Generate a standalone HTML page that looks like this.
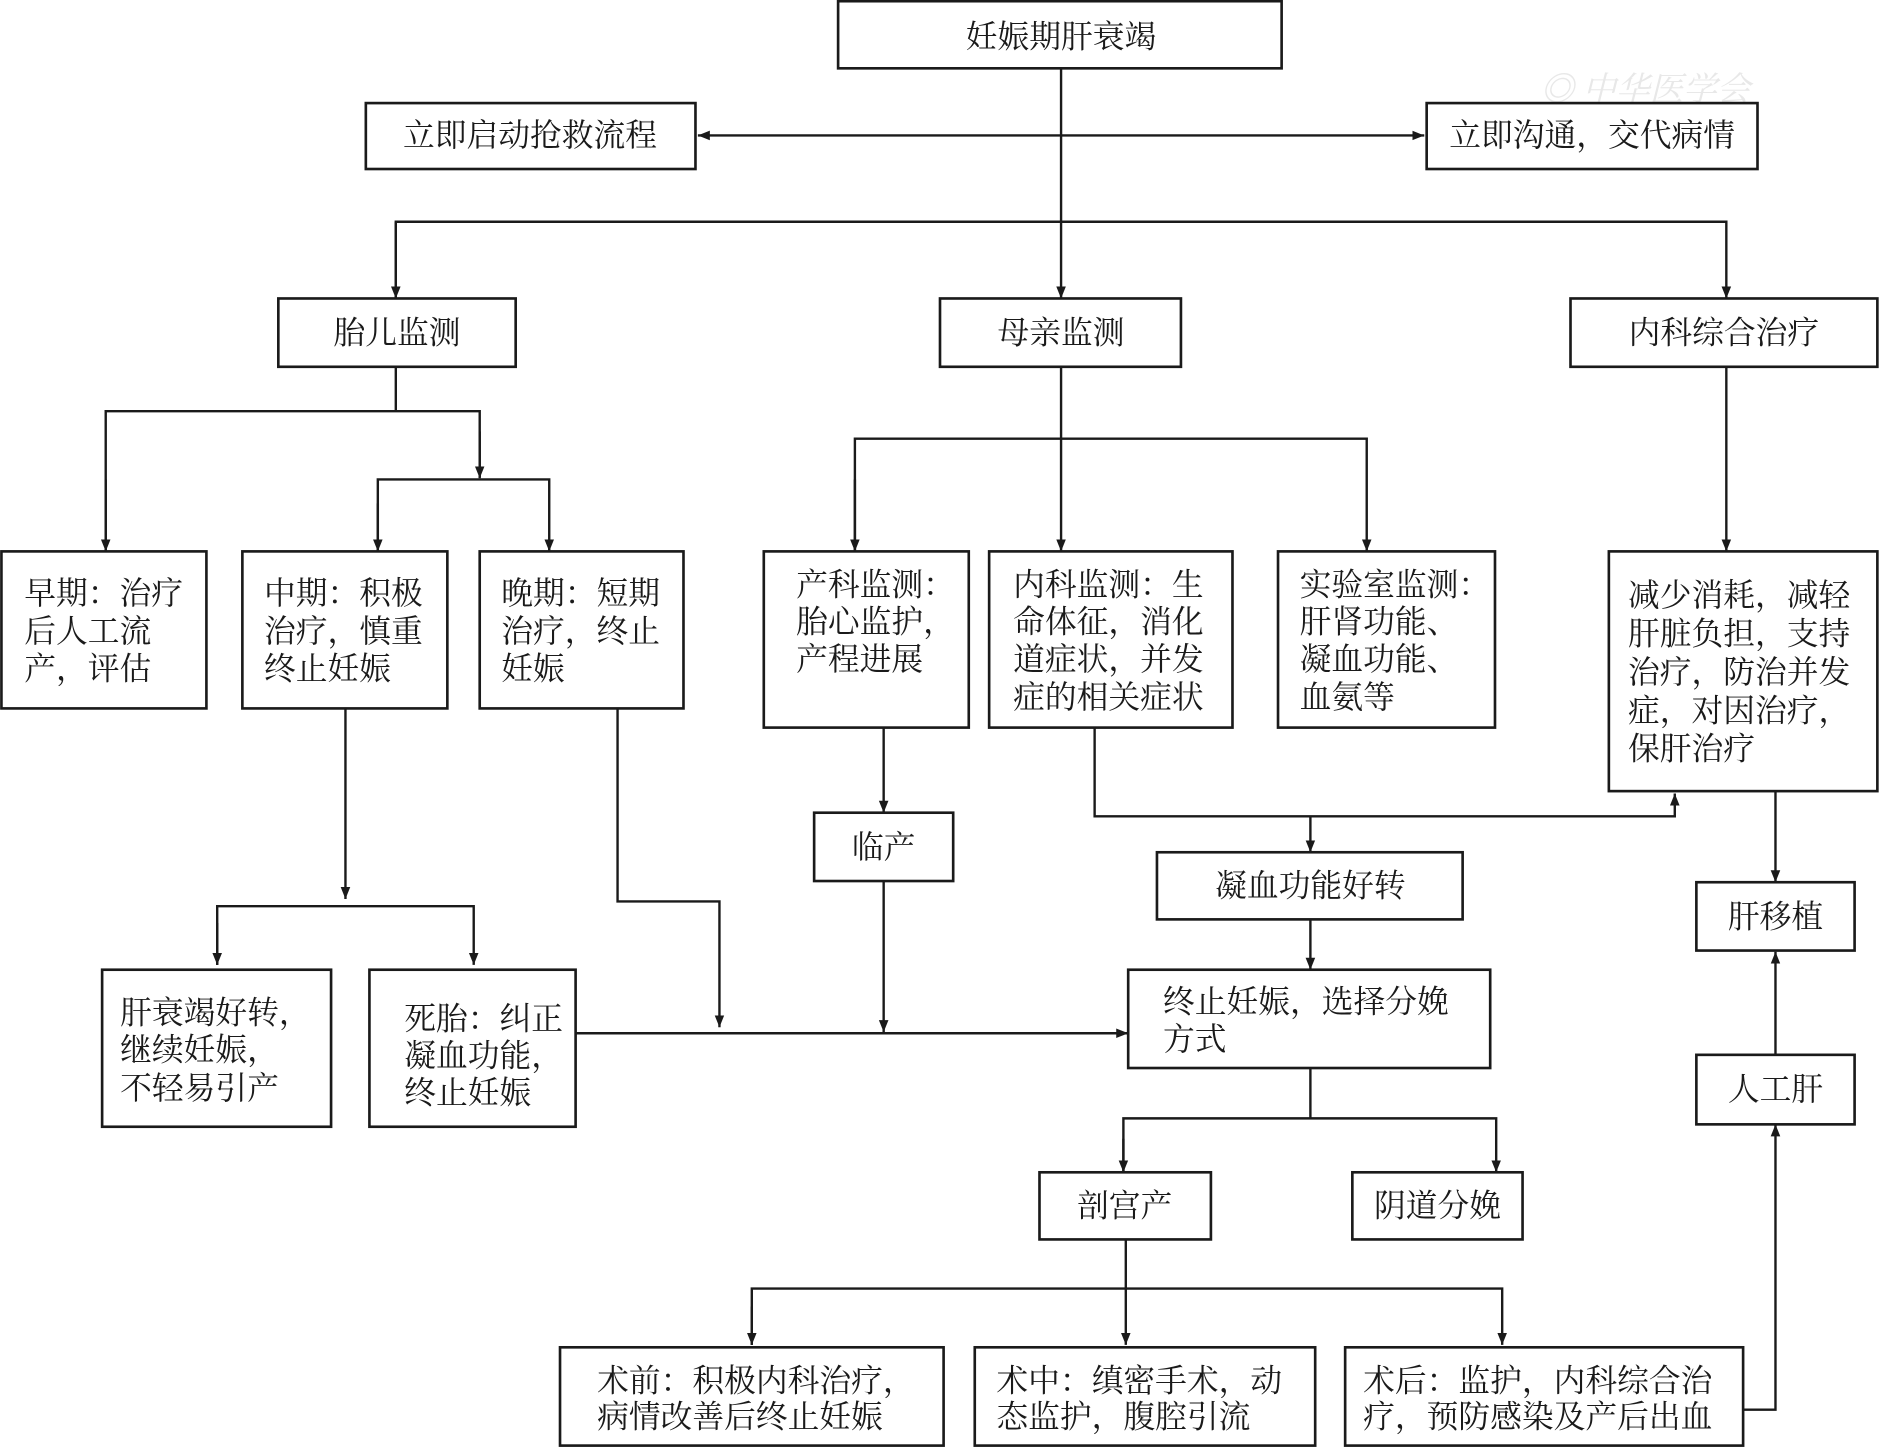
<!DOCTYPE html>
<html><head><meta charset="utf-8"><style>
html,body{margin:0;padding:0;background:#fff;}
svg{display:block;}
text{font-family:"Liberation Serif","Noto Serif CJK SC",serif;font-size:26.5px;fill:#1a1a1a;dominant-baseline:central;}
rect{fill:#fff;stroke:#1a1a1a;stroke-width:2.2;}
.l{fill:none;stroke:#1a1a1a;stroke-width:2;}
</style></head><body>
<svg width="1880" height="1448" viewBox="0 0 1568 1208" xmlns="http://www.w3.org/2000/svg">
<defs><marker id="a" viewBox="0 0 10 10" refX="10" refY="5" markerWidth="10" markerHeight="10" markerUnits="userSpaceOnUse" orient="auto-start-reverse"><path d="M0,1 L10,5 L0,9 z" fill="#1a1a1a"/></marker></defs>
<text x="1285" y="75" style="font-size:28px;fill:#e8e8e8;font-style:italic">◎ 中华医学会</text>
<!-- connectors -->
<line class="l" x1="582" y1="113" x2="1188" y2="113" marker-start="url(#a)" marker-end="url(#a)"/>
<line class="l" x1="885" y1="57" x2="885" y2="249" marker-end="url(#a)"/>
<polyline class="l" points="330,249 330,185 1440,185 1440,249" marker-end="url(#a)"/>
<line class="l" x1="330" y1="185" x2="330" y2="249" marker-end="url(#a)"/>
<polyline class="l" points="330,306 330,343"/>
<polyline class="l" points="88,460 88,343 400,343 400,398"/>
<line class="l" x1="88" y1="400" x2="88" y2="460" marker-end="url(#a)"/>
<line class="l" x1="400" y1="360" x2="400" y2="399" marker-end="url(#a)"/>
<polyline class="l" points="315,460 315,400 458,400 458,460" marker-end="url(#a)"/>
<line class="l" x1="315" y1="420" x2="315" y2="460" marker-end="url(#a)"/>
<line class="l" x1="885" y1="306" x2="885" y2="460" marker-end="url(#a)"/>
<polyline class="l" points="713,460 713,366 1140,366 1140,460" marker-end="url(#a)"/>
<line class="l" x1="713" y1="400" x2="713" y2="460" marker-end="url(#a)"/>
<line class="l" x1="1440" y1="306" x2="1440" y2="460" marker-end="url(#a)"/>
<polyline class="l" points="913,607 913,681 1397,681 1397,662" marker-end="url(#a)"/>
<line class="l" x1="1093" y1="681" x2="1093" y2="711" marker-end="url(#a)"/>
<line class="l" x1="1093" y1="767" x2="1093" y2="809" marker-end="url(#a)"/>
<line class="l" x1="737" y1="607" x2="737" y2="678" marker-end="url(#a)"/>
<line class="l" x1="737" y1="735" x2="737" y2="861" marker-end="url(#a)"/>
<polyline class="l" points="515,591 515,752 600,752 600,857" marker-end="url(#a)"/>
<line class="l" x1="288" y1="591" x2="288" y2="750" marker-end="url(#a)"/>
<polyline class="l" points="181,805 181,756 395,756 395,805" marker-end="url(#a)"/>
<line class="l" x1="181" y1="770" x2="181" y2="805" marker-end="url(#a)"/>
<line class="l" x1="480" y1="862" x2="941" y2="862" marker-end="url(#a)"/>
<line class="l" x1="1093" y1="891" x2="1093" y2="933"/>
<polyline class="l" points="937,978 937,933 1248,933 1248,978" marker-end="url(#a)"/>
<line class="l" x1="937" y1="950" x2="937" y2="978" marker-end="url(#a)"/>
<line class="l" x1="939" y1="1034" x2="939" y2="1122" marker-end="url(#a)"/>
<polyline class="l" points="627,1122 627,1075 1253,1075 1253,1122" marker-end="url(#a)"/>
<line class="l" x1="627" y1="1090" x2="627" y2="1122" marker-end="url(#a)"/>
<polyline class="l" points="1454,1176 1481,1176 1481,938" marker-end="url(#a)"/>
<line class="l" x1="1481" y1="880" x2="1481" y2="794" marker-end="url(#a)"/>
<line class="l" x1="1481" y1="660" x2="1481" y2="736" marker-end="url(#a)"/>
<!-- boxes -->
<rect x="699" y="1" width="370" height="56"/><text x="885" y="31" text-anchor="middle">妊娠期肝衰竭</text>
<rect x="305" y="86" width="275" height="55"/><text x="442" y="113" text-anchor="middle">立即启动抢救流程</text>
<rect x="1190" y="86" width="276" height="55"/><text x="1328" y="113" text-anchor="middle">立即沟通，交代病情</text>
<rect x="232" y="249" width="198" height="57"/><text x="331" y="278" text-anchor="middle">胎儿监测</text>
<rect x="784" y="249" width="201" height="57"/><text x="885" y="278" text-anchor="middle">母亲监测</text>
<rect x="1310" y="249" width="256" height="57"/><text x="1438" y="278" text-anchor="middle">内科综合治疗</text>
<rect x="1" y="460" width="171" height="131"/>
<text x="20" y="495">早期：治疗</text><text x="20" y="527">后人工流</text><text x="20" y="558">产，评估</text>
<rect x="202" y="460" width="171" height="131"/>
<text x="220" y="495">中期：积极</text><text x="220" y="527">治疗，慎重</text><text x="220" y="558">终止妊娠</text>
<rect x="400" y="460" width="170" height="131"/>
<text x="418" y="495">晚期：短期</text><text x="418" y="527">治疗，终止</text><text x="418" y="558">妊娠</text>
<rect x="637" y="460" width="171" height="147"/>
<text x="664" y="488">产科监测：</text><text x="664" y="519">胎心监护，</text><text x="664" y="550">产程进展</text>
<rect x="825" y="460" width="203" height="147"/>
<text x="845" y="488">内科监测：生</text><text x="845" y="519">命体征，消化</text><text x="845" y="550">道症状，并发</text><text x="845" y="582">症的相关症状</text>
<rect x="1066" y="460" width="181" height="147"/>
<text x="1084" y="488">实验室监测：</text><text x="1084" y="519">肝肾功能、</text><text x="1084" y="550">凝血功能、</text><text x="1084" y="582">血氨等</text>
<rect x="1342" y="460" width="224" height="200"/>
<text x="1358" y="497">减少消耗，减轻</text><text x="1358" y="529">肝脏负担，支持</text><text x="1358" y="561">治疗，防治并发</text><text x="1358" y="593">症，对因治疗，</text><text x="1358" y="625">保肝治疗</text>
<rect x="679" y="678" width="116" height="57"/><text x="737" y="707" text-anchor="middle">临产</text>
<rect x="965" y="711" width="255" height="56"/><text x="1093" y="739" text-anchor="middle">凝血功能好转</text>
<rect x="1415" y="736" width="132" height="57"/><text x="1481" y="765" text-anchor="middle">肝移植</text>
<rect x="85" y="809" width="191" height="131"/>
<text x="100" y="845">肝衰竭好转，</text><text x="100" y="876">继续妊娠，</text><text x="100" y="908">不轻易引产</text>
<rect x="308" y="809" width="172" height="131"/>
<text x="337" y="850">死胎：纠正</text><text x="337" y="881">凝血功能，</text><text x="337" y="912">终止妊娠</text>
<rect x="941" y="809" width="302" height="82"/>
<text x="970" y="836">终止妊娠，选择分娩</text><text x="970" y="867">方式</text>
<rect x="1415" y="880" width="132" height="58"/><text x="1481" y="909" text-anchor="middle">人工肝</text>
<rect x="867" y="978" width="143" height="56"/><text x="938" y="1006" text-anchor="middle">剖宫产</text>
<rect x="1128" y="978" width="142" height="56"/><text x="1199" y="1006" text-anchor="middle">阴道分娩</text>
<rect x="467" y="1124" width="320" height="82"/>
<text x="498" y="1152">术前：积极内科治疗，</text><text x="498" y="1182">病情改善后终止妊娠</text>
<rect x="813" y="1124" width="284" height="82"/>
<text x="831" y="1152">术中：缜密手术，动</text><text x="831" y="1182">态监护，腹腔引流</text>
<rect x="1122" y="1124" width="332" height="82"/>
<text x="1137" y="1152">术后：监护，内科综合治</text><text x="1137" y="1182">疗，预防感染及产后出血</text>
</svg>
</body></html>
